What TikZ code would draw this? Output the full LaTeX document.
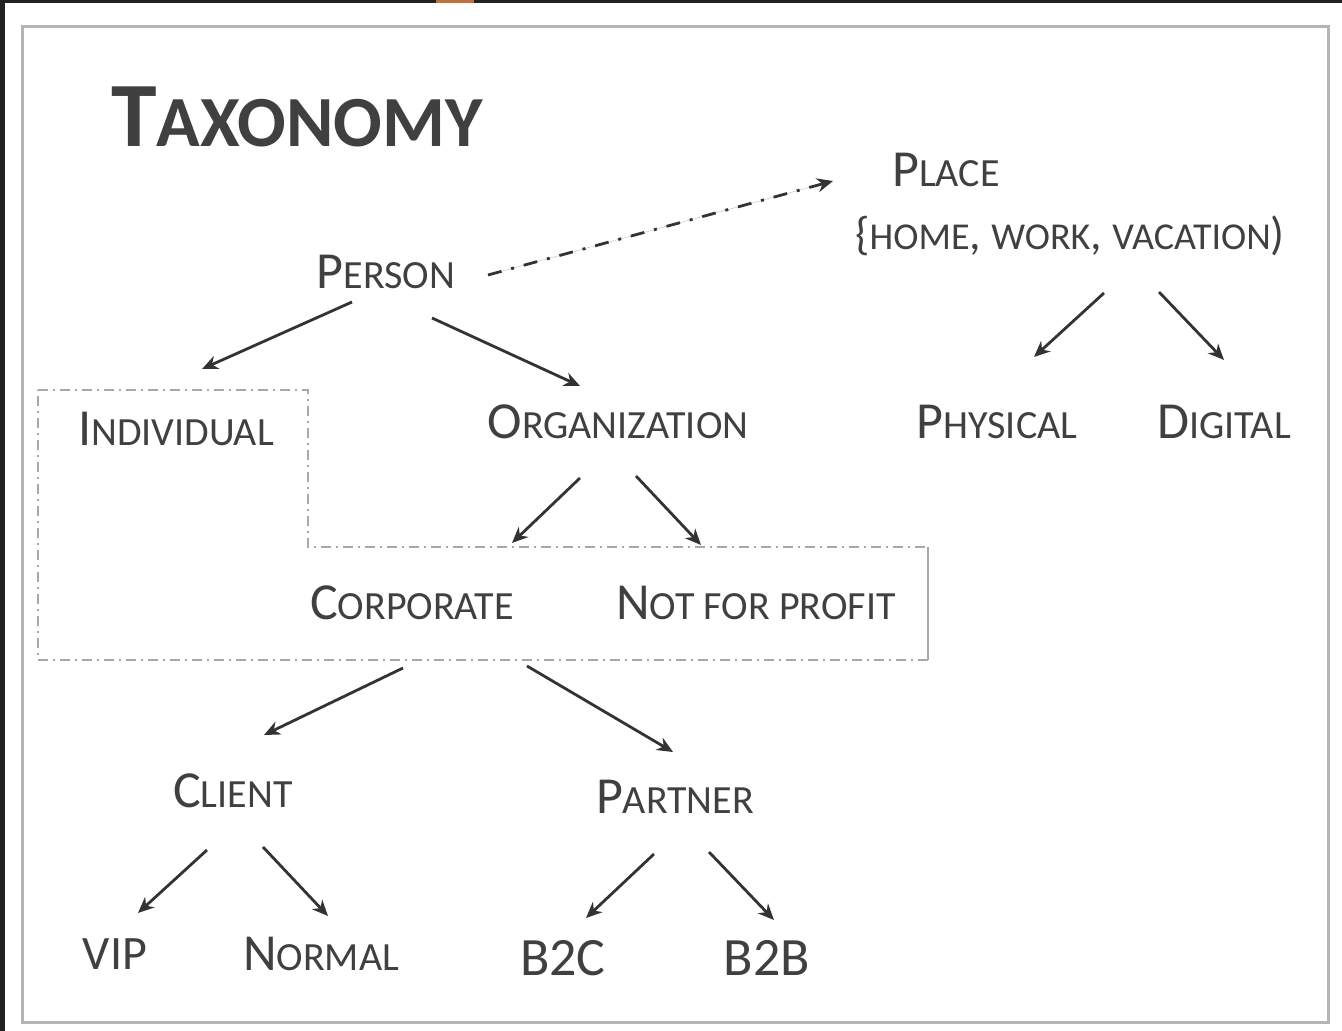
\documentclass[tikz,border=0pt]{standalone}
\usepackage{fontspec}
\setmainfont{Carlito}
\usetikzlibrary{arrows.meta}

\definecolor{textgray}{HTML}{404040}
\definecolor{linegray}{HTML}{333333}
\definecolor{boxgray}{HTML}{A8A8A8}
\definecolor{framegray}{HTML}{B4B4B4}
\definecolor{darkbg}{HTML}{222222}
\definecolor{tabmark}{HTML}{C0703A}

% first letter large, the rest as small capitals
\newcommand{\capsfirst}[2]{{\fontsize{26}{30}\selectfont #1}{\fontsize{20}{24}\selectfont #2}}
\newcommand{\capsset}[2]{{\fontsize{23}{27}\selectfont #1}{\fontsize{19}{23}\selectfont #2}}

\begin{document}
\begin{tikzpicture}[x=0.5pt, y=-0.5pt, >={Stealth[length=8pt, width=7pt]},
    label/.style={text=textgray, inner sep=0pt, anchor=center},
    arr/.style={->, draw=linegray, fill=linegray, line width=1.4pt},
    boxline/.style={draw=boxgray, line width=0.7pt, dash pattern=on 5pt off 2.5pt on 1pt off 2.5pt}]

    % Nền và khung
    \useasboundingbox (0,0) rectangle (1342,1031);
    \fill[darkbg] (0,0) rectangle (1342,1031);
    \fill[white] (5,3) rectangle (1342,1031);
    \fill[tabmark] (436,0) rectangle (474,3);
    \draw[framegray, line width=1.5pt] (22,27) rectangle (1328,1022);

    % Tiêu đề
    \node[label, font=\bfseries] (title) at (297,117)
        {{\fontsize{46}{50}\selectfont T}{\fontsize{36}{40}\selectfont AXONOMY}};

    % Các nút
    \node[label] (person) at (386,272) {\capsfirst{P}{ERSON}};
    \node[label] (place) at (946,170) {\capsfirst{P}{LACE}};
    \node[label] (placeset) at (1070,236)
        {\capsset{\{}{HOME}\capsset{, }{WORK}\capsset{, }{VACATION}\capsset{)}{}};
    \node[label] (individual) at (176,429) {\capsfirst{I}{NDIVIDUAL}};
    \node[label] (organization) at (618,422) {\capsfirst{O}{RGANIZATION}};
    \node[label] (physical) at (997,422) {\capsfirst{P}{HYSICAL}};
    \node[label] (digital) at (1224,422) {\capsfirst{D}{IGITAL}};
    \node[label] (corporate) at (412,603) {\capsfirst{C}{ORPORATE}};
    \node[label] (notprofit) at (756,603) {\capsfirst{N}{OT FOR PROFIT}};
    \node[label] (client) at (233,791) {\capsfirst{C}{LIENT}};
    \node[label] (partner) at (675,797) {\capsfirst{P}{ARTNER}};
    \node[label, font=\fontsize{24}{28}\selectfont] (vip) at (115,954) {VIP};
    \node[label] (normal) at (321,954) {\capsfirst{N}{ORMAL}};
    \node[label, font=\fontsize{27}{31}\selectfont] (b2c) at (563,958) {B2C};
    \node[label, font=\fontsize{27}{31}\selectfont] (b2b) at (767,958) {B2B};

    % Khung nét chấm gạch quanh nhóm
    \draw[boxline] (38,390) -- (308,390) -- (308,547) -- (928,547);
    \draw[boxgray, line width=0.7pt] (928,547) -- (928,660);
    \draw[boxline] (928,660) -- (38,660) -- (38,390);

    % Mũi tên nét chấm gạch
    \draw[arr, dash pattern=on 7pt off 5pt on 1.5pt off 5pt]
        ([shift={(102,3)}]person.center) -- ([shift={(-113,11)}]place.center);

    % Các mũi tên phân nhánh
    \draw[arr] ([shift={(-34,30)}]person.center) -- ([shift={(26,-60)}]individual.center);
    \draw[arr] ([shift={(46,46)}]person.center) -- ([shift={(-38,-36)}]organization.center);
    \draw[arr] ([shift={(34,57)}]placeset.center) -- ([shift={(37,-65)}]physical.center);
    \draw[arr] ([shift={(89,56)}]placeset.center) -- ([shift={(0,-62)}]digital.center);
    \draw[arr] ([shift={(-38,56)}]organization.center) -- ([shift={(100,-60)}]corporate.center);
    \draw[arr] ([shift={(18,54)}]organization.center) -- ([shift={(-55,-58)}]notprofit.center);
    \draw[arr] ([shift={(-9,65)}]corporate.center) -- ([shift={(31,-56)}]client.center);
    \draw[arr] ([shift={(115,63)}]corporate.center) -- ([shift={(-2,-45)}]partner.center);
    \draw[arr] ([shift={(-26,59)}]client.center) -- ([shift={(23,-41)}]vip.center);
    \draw[arr] ([shift={(30,56)}]client.center) -- ([shift={(7,-38)}]normal.center);
    \draw[arr] ([shift={(-21,57)}]partner.center) -- ([shift={(23,-40)}]b2c.center);
    \draw[arr] ([shift={(34,55)}]partner.center) -- ([shift={(7,-38)}]b2b.center);
\end{tikzpicture}
\end{document}
